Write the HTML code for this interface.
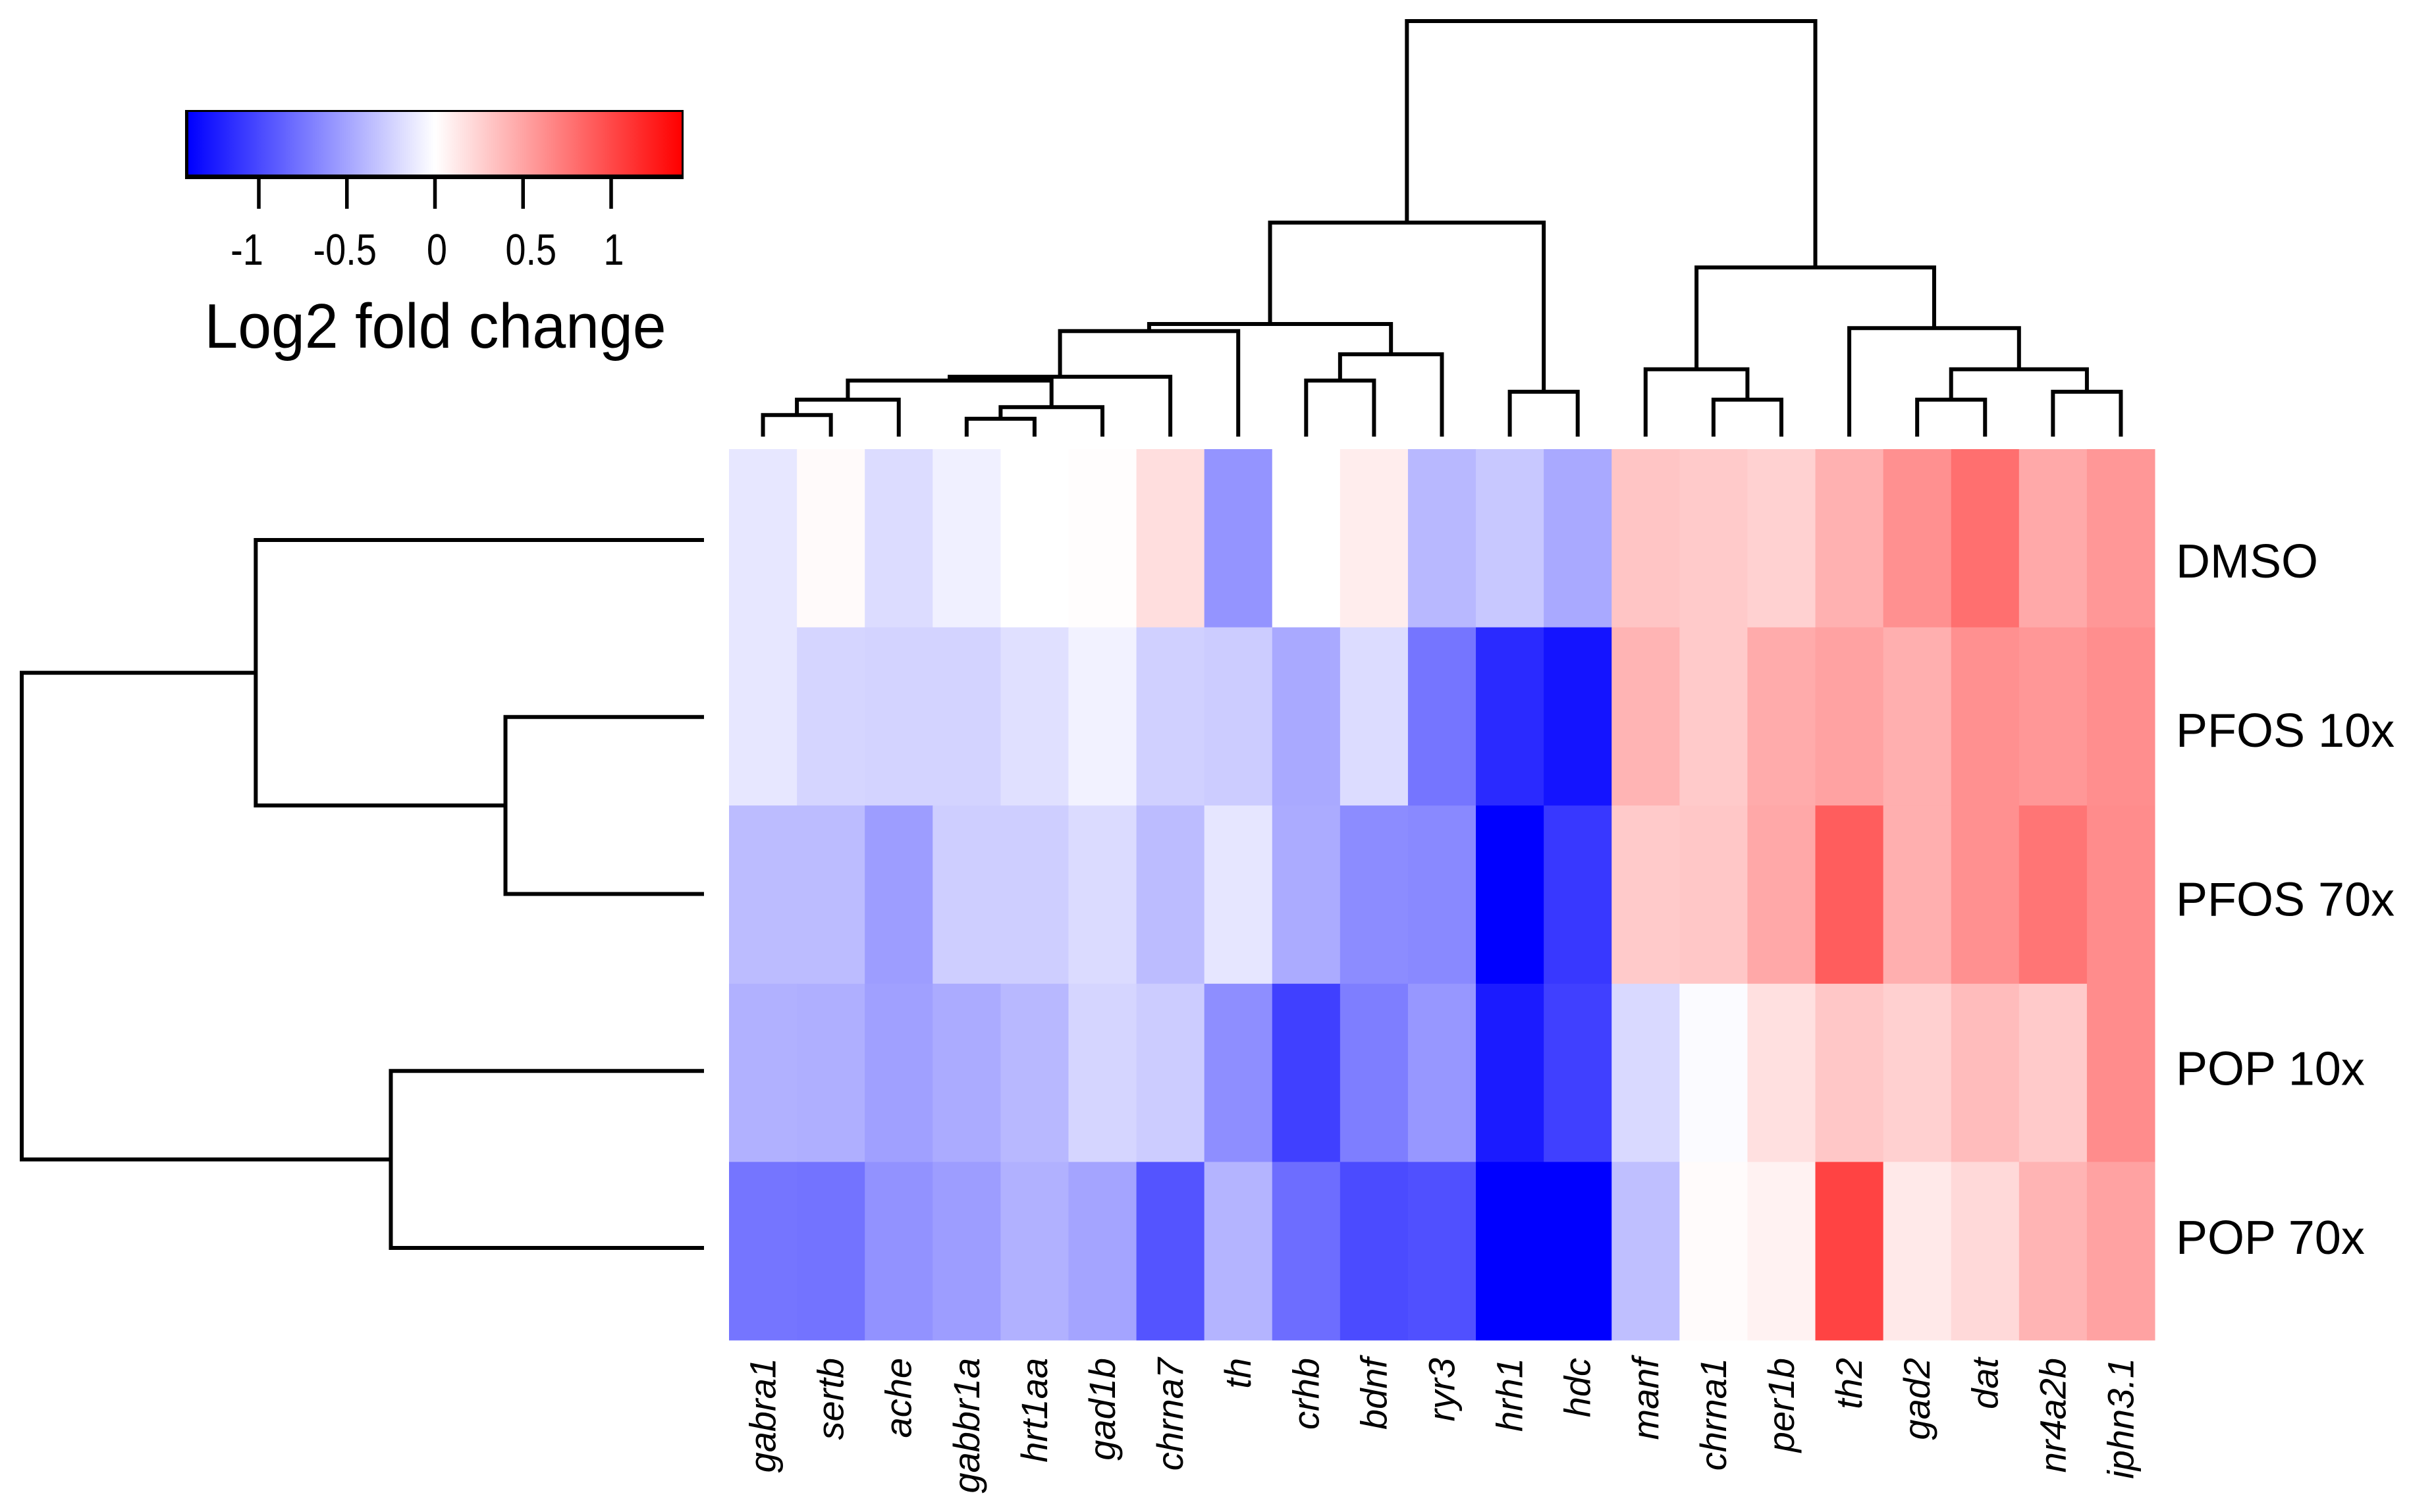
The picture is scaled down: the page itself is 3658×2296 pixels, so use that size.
<!DOCTYPE html>
<html lang="en">
<head>
<meta charset="utf-8">
<title>Log2 fold change heatmap</title>
<style>
html,body{margin:0;padding:0;background:#fff}
svg{display:block}
text{font-family:"Liberation Sans",Arial,sans-serif;fill:#000}
</style>
</head>
<body>
<svg id="chart" xmlns="http://www.w3.org/2000/svg" width="3658" height="2296" viewBox="0 0 3658 2296">
  <defs>
    <linearGradient id="legend-gradient" x1="0" x2="1" y1="0" y2="0"></linearGradient>
  </defs>
  <rect x="0" y="0" width="3658" height="2296" fill="#ffffff"/>
  <g id="heat"></g>
  <g id="colDendro"></g>
  <g id="rowDendro"></g>
  <g id="colLabels"></g>
  <g id="rowLabels"></g>
  <g id="legend"></g>
</svg>
<script>
const genes = ['gabra1','sertb','ache','gabbr1a','hrt1aa','gad1b','chrna7','th','crhb','bdnf','ryr3','hrh1','hdc','manf','chrna1','per1b','th2','gad2','dat','nr4a2b','iphn3.1'];
const treatments = ['DMSO','PFOS 10x','PFOS 70x','POP 10x','POP 70x'];
const valuesDMSO = [-0.13,0.03,-0.19,-0.08,0,0.01,0.18,-0.59,0,0.10,-0.39,-0.30,-0.47,0.32,0.29,0.25,0.43,0.61,0.79,0.47,0.57];
const valuesPFOS10x = [-0.13,-0.23,-0.24,-0.24,-0.17,-0.07,-0.26,-0.28,-0.47,-0.19,-0.76,-1.17,-1.29,0.41,0.29,0.46,0.51,0.44,0.61,0.57,0.62];
const valuesPFOS70x = [-0.37,-0.37,-0.54,-0.27,-0.27,-0.20,-0.37,-0.14,-0.46,-0.63,-0.65,-1.40,-1.09,0.29,0.31,0.48,0.89,0.44,0.61,0.76,0.63];
const valuesPOP10x = [-0.43,-0.44,-0.52,-0.46,-0.39,-0.23,-0.28,-0.62,-1.05,-0.71,-0.57,-1.25,-1.05,-0.21,-0.02,0.17,0.31,0.26,0.37,0.29,0.63];
const valuesPOP70x = [-0.76,-0.77,-0.60,-0.54,-0.43,-0.50,-0.94,-0.41,-0.80,-0.99,-0.96,-1.40,-1.40,-0.35,0.02,0.07,1.03,0.12,0.21,0.41,0.51];
const colorMin = -1.4;
const colorMax = 1.4;
const legendTicks = [-1,-0.5,0,0.5,1];
const legendTickLabels = ['-1','-0.5','0','0.5','1'];
const legendTitle = 'Log2 fold change';
/* hclust-style merges: negative = leaf (1-based), positive = earlier merge (1-based) */
const colMergeLeft = [-1,1,-4,3,2,5,6,-9,8,7,-12,10,-15,-14,-18,-20,15,-17,14,12];
const colMergeRight = [-2,-3,-5,-6,4,-7,-8,-10,-11,9,-13,11,-16,13,-19,-21,16,17,18,19];
const colMergeHeight = [0.52,0.89,0.43,0.71,1.35,1.44,2.54,1.35,1.98,2.71,1.08,5.15,0.89,1.62,0.89,1.08,1.62,2.61,4.07,10];
const rowMergeLeft = [-2,-1,-4,2];
const rowMergeRight = [-3,1,-5,3];
const rowMergeHeight = [2.91,6.57,4.59,10];

const SVG_NS = 'http://www.w3.org/2000/svg';
const matrix = [valuesDMSO, valuesPFOS10x, valuesPFOS70x, valuesPOP10x, valuesPOP70x];

/* axis functions */
const heatLeft = 1107, heatRight = 3272, heatTop = 682, heatBottom = 2035;
const xScale = i => heatLeft + i * (heatRight - heatLeft) / genes.length;
const yScale = i => heatTop + i * (heatBottom - heatTop) / treatments.length;
const colDendroBase = 663, colDendroUnit = 63.1;
const colHeight = h => colDendroBase - h * colDendroUnit;
const rowDendroBase = 1069, rowDendroUnit = 103.6;
const rowHeight = h => rowDendroBase - h * rowDendroUnit;
const rowLeafY = i => 820 + i * 268.75;
const rowLabelBaseline = i => 877 + i * 256.75;
const legendLeft = 286, legendRight = 1035;
const legendX = v => legendLeft + (v - colorMin) / (colorMax - colorMin) * (legendRight - legendLeft);

function colorOf(v) {
  const t = Math.min(1, Math.abs(v) / colorMax);
  const c = Math.round(255 * (1 - t));
  return v < 0 ? `rgb(${c},${c},255)` : `rgb(255,${c},${c})`;
}
function make(tag, attrs, parent) {
  const el = document.createElementNS(SVG_NS, tag);
  for (const k in attrs) el.setAttribute(k, attrs[k]);
  parent.appendChild(el);
  return el;
}

/* heatmap cells */
const heatGroup = document.getElementById('heat');
matrix.forEach((row, r) => {
  row.forEach((v, c) => {
    const cell = make('rect', {
      x: xScale(c), y: yScale(r),
      width: xScale(c + 1) - xScale(c) + 0.5,
      height: yScale(r + 1) - yScale(r) + 0.5,
      fill: colorOf(v)
    }, heatGroup);
    
    
  });
});

/* dendrograms */
function drawColDendro() {
  const g = document.getElementById('colDendro');
  const nodes = [];
  const pos = id => id < 0 ? {p: xScale(-id - 1 + 0.5), y: colDendroBase} : nodes[id - 1];
  colMergeHeight.forEach((h, i) => {
    const a = pos(colMergeLeft[i]), b = pos(colMergeRight[i]), y = colHeight(h);
    const line = make('polyline', {
      points: `${a.p},${a.y} ${a.p},${y} ${b.p},${y} ${b.p},${b.y}`,
      fill: 'none', stroke: '#000', 'stroke-width': 6, 'stroke-linejoin': 'miter'
    }, g);
    
    
    nodes.push({p: (a.p + b.p) / 2, y});
  });
}
function drawRowDendro() {
  const g = document.getElementById('rowDendro');
  const nodes = [];
  const pos = id => id < 0 ? {p: rowLeafY(-id - 1), x: rowDendroBase} : nodes[id - 1];
  rowMergeHeight.forEach((h, i) => {
    const a = pos(rowMergeLeft[i]), b = pos(rowMergeRight[i]), x = rowHeight(h);
    const line = make('polyline', {
      points: `${a.x},${a.p} ${x},${a.p} ${x},${b.p} ${b.x},${b.p}`,
      fill: 'none', stroke: '#000', 'stroke-width': 6, 'stroke-linejoin': 'miter'
    }, g);
    
    
    nodes.push({p: (a.p + b.p) / 2, x});
  });
}
drawColDendro();
drawRowDendro();

/* gene labels */
const colLabelGroup = document.getElementById('colLabels');
genes.forEach((gene, i) => {
  const cx = xScale(i + 0.5) + 19;
  const t = make('text', {
    transform: `translate(${cx},2062) rotate(-90)`,
    'text-anchor': 'end', 'font-size': 56, 'font-style': 'italic'
  }, colLabelGroup);
  t.textContent = gene;
  
  
});

/* treatment labels */
const rowLabelGroup = document.getElementById('rowLabels');
treatments.forEach((name, i) => {
  const t = make('text', {x: 3304, y: rowLabelBaseline(i), 'font-size': 72}, rowLabelGroup);
  t.textContent = name;
  
  
});

/* legend */
(function drawLegend() {
  const g = document.getElementById('legend');
  const grad = document.getElementById('legend-gradient');
  [colorMin, 0, colorMax].forEach(v => {
    make('stop', {
      offset: (v - colorMin) / (colorMax - colorMin),
      'stop-color': colorOf(v)
    }, grad);
  });
  const frame = make('rect', {x: legendLeft - 5, y: 167, width: legendRight - legendLeft + 8, height: 105, fill: '#000'}, g);
  
  
  const bar = make('rect', {x: legendLeft, y: 170, width: legendRight - legendLeft, height: 95, fill: 'url(#legend-gradient)'}, g);
  
  
  const labelNudge = {'-1': -18, '-0.5': -3, '0': 3, '0.5': 12, '1': 4};
  legendTicks.forEach((v, i) => {
    const px = legendX(v);
    const tick = make('line', {x1: px, x2: px, y1: 272, y2: 317, stroke: '#000', 'stroke-width': 5.5}, g);
    
    
    const lab = legendTickLabels[i];
    const t = make('text', {
      transform: `translate(${px + labelNudge[lab]},402) scale(1,1.2)`,
      'text-anchor': 'middle', 'font-size': 56
    }, g);
    t.textContent = lab;
    
    
  });
  const title = make('text', {
    transform: 'translate(661,528) scale(0.952,1)',
    'text-anchor': 'middle', 'font-size': 96
  }, g);
  title.textContent = legendTitle;
  
  
})();
</script>
</body>
</html>
